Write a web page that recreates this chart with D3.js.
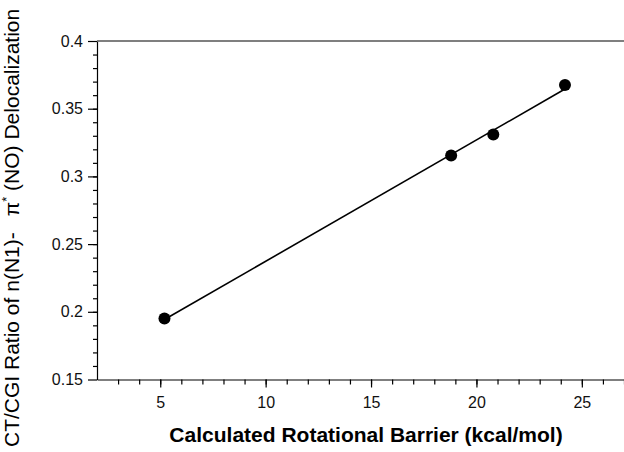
<!DOCTYPE html>
<html>
<head>
<meta charset="UTF-8">
<style>
  body { margin: 0; background: #fff; }
  svg { display: block; font-family: 'Liberation Sans', Arial, sans-serif; }
  .tick text { font-size: 16px; fill: #111; }
  .domain, .tick line { stroke: #000; stroke-width: 1.2px; }
</style>
</head>
<body>
<script src="https://cdn.jsdelivr.net/npm/d3@7"></script>
<script>
  let width = 624,
    height = 452;

  // data
  let barrier = [5.2, 18.8, 20.8, 24.2];
  let ratio = [0.195, 0.3155, 0.331, 0.3675];
  let fitLine = [[5.2, 0.1943], [24.2, 0.3645]];
  let xTicks = [5, 10, 15, 20, 25];
  let yTicks = [0.15, 0.2, 0.25, 0.3, 0.35, 0.4];

  let margin = {top: 41, right: 0, bottom: 72.5, left: 97};

  let svg = d3.select("body").append("svg")
    .attr("width", width)
    .attr("height", height);

  let x = d3.scaleLinear()
    .domain([2, 27])
    .range([margin.left, width - margin.right]);

  let y = d3.scaleLinear()
    .domain([0.15, 0.4])
    .range([height - margin.bottom, margin.top]);

  // minor ticks first
  svg.append("g")
    .attr("transform", "translate(0," + (height - margin.bottom) + ")")
    .call(d3.axisBottom(x).tickValues(d3.range(3, 28, 1)).tickSize(5).tickFormat(""))
    .call(g => g.select(".domain").remove());

  svg.append("g")
    .attr("transform", "translate(" + margin.left + ",0)")
    .call(d3.axisLeft(y).tickValues(d3.range(16, 40, 1).map(d => d / 100)).tickSize(4).tickFormat(""))
    .call(g => g.select(".domain").remove());

  // major ticks + labels
  svg.append("g")
    .attr("transform", "translate(0," + (height - margin.bottom) + ")")
    .call(d3.axisBottom(x).tickValues(xTicks).tickSize(8).tickSizeOuter(0).tickPadding(9).tickFormat(d3.format("d")));

  svg.append("g")
    .attr("transform", "translate(" + margin.left + ",0)")
    .call(d3.axisLeft(y).tickValues(yTicks).tickSize(9).tickSizeOuter(0).tickPadding(5).tickFormat(d => String(d)));

  // top frame line
  svg.append("line")
    .attr("x1", x(2)).attr("x2", x(27))
    .attr("y1", y(0.4)).attr("y2", y(0.4))
    .attr("stroke", "#555")
    .attr("stroke-width", 1.5);

  // fit line
  svg.append("path")
    .datum(fitLine)
    .attr("d", d3.line().x(d => x(d[0])).y(d => y(d[1])))
    .attr("fill", "none")
    .attr("stroke", "#000")
    .attr("stroke-width", 1.6);

  svg.append("g")
    .selectAll("circle")
    .data(barrier)
    .enter()
    .append("circle")
    .attr("cx", d => x(d))
    .attr("cy", (d, i) => y(ratio[i]))
    .attr("r", 6)
    .attr("fill", "#000");

  // axis titles
  svg.append("text")
    .attr("x", 366)
    .attr("y", 442)
    .attr("text-anchor", "middle")
    .style("font-size", "21px")
    .style("font-weight", "bold")
    .text("Calculated Rotational Barrier (kcal/mol)");

  // rotated: text x = -(screen y)
  let yTitle = svg.append("text")
    .attr("transform", "translate(19,0) rotate(-90)")
    .attr("x", -447)
    .style("font-size", "21px");
  yTitle.append("tspan").text("CT/CGI Ratio of n(N1)-");
  yTitle.append("tspan").attr("dx", 16).text("\u03c0");
  yTitle.append("tspan").attr("dy", -8).style("font-size", "13px").text("*");
  yTitle.append("tspan").attr("dy", 8).text(" (NO) Delocalization");
</script>
</body>
</html>
